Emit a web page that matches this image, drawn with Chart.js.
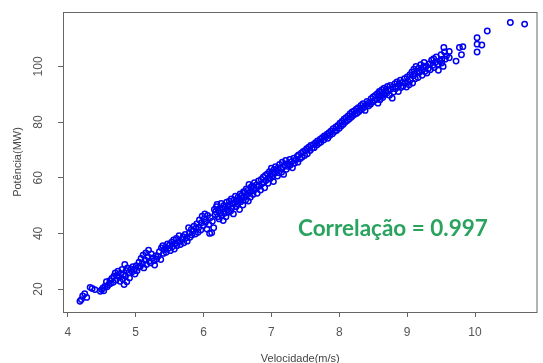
<!DOCTYPE html>
<html lang="pt">
<head>
<meta charset="UTF-8">
<title>Potência x Velocidade</title>
<script src="https://cdn.jsdelivr.net/npm/chart.js"></script>
<style>
  html, body { margin: 0; padding: 0; background: #fff; }
  canvas { display: block; }
</style>
</head>
<body>
<canvas id="scatter" width="543" height="363"></canvas>
<script>
// [velocidade (m/s), potência (MW)]
const readings = [
  [4.18,15.6],[4.20,16.2],[4.22,17.5],[4.25,18.3],[4.28,17.0],[4.33,20.6],[4.36,20.2],[4.40,19.8],
  [4.48,19.2],[4.50,19.8],[4.52,20.4],[4.53,19.4],[4.55,21.0],[4.57,22.6],[4.58,20.8],[4.60,21.5],
  [4.62,23.0],[4.63,22.0],[4.65,23.8],[4.67,22.4],[4.68,24.6],[4.70,25.8],[4.71,23.2],[4.73,25.0],
  [4.74,26.4],[4.76,24.2],[4.77,22.8],[4.78,25.6],[4.80,27.0],[4.81,23.6],[4.82,25.2],[4.83,21.6],
  [4.84,28.8],[4.85,24.6],[4.86,26.6],[4.87,22.6],[4.88,27.6],[4.90,25.8],[4.91,24.0],[4.93,27.2],
  [4.95,26.2],[4.96,28.0],[4.98,27.0],[4.99,25.4],
  [5.01,28.4],[5.02,26.6],[5.04,27.8],[5.05,29.6],[5.07,28.2],[5.08,31.0],[5.10,29.2],[5.11,32.2],
  [5.12,27.6],[5.14,30.4],[5.15,33.0],[5.16,28.8],[5.18,31.6],[5.19,34.0],[5.20,30.0],[5.22,29.4],
  [5.23,32.6],[5.25,31.2],[5.27,30.2],[5.28,28.6],[5.30,32.0],[5.31,30.8],[5.33,31.8],[5.35,33.4],
  [5.37,30.6],[5.38,34.8],[5.40,35.6],[5.41,32.8],
  [5.42,34.2],[5.44,35.0],[5.45,33.2],[5.47,36.2],[5.48,34.6],[5.50,35.8],[5.51,33.8],[5.53,36.8],
  [5.54,35.2],[5.56,37.6],[5.57,34.4],[5.58,36.4],[5.60,38.2],[5.61,35.6],[5.63,37.0],[5.64,39.2],
  [5.66,36.0],[5.68,37.8],[5.70,38.8],[5.71,36.6],[5.73,39.6],[5.75,38.4],[5.76,37.2],[5.78,42.0],
  [5.79,40.2],[5.80,38.6],[5.82,41.4],[5.83,39.4],
  [5.85,40.8],[5.86,42.6],[5.88,39.8],[5.89,41.8],[5.90,43.4],[5.92,40.4],[5.93,42.2],[5.94,44.8],
  [5.96,41.2],[5.97,43.8],[5.98,46.2],[6.00,42.8],[6.01,45.2],[6.02,47.0],[6.03,44.0],[6.05,41.6],
  [6.06,46.4],[6.08,43.2],[6.09,40.0],[6.10,45.6],[6.12,40.2],[6.13,44.4],[6.15,42.0],[6.16,48.6],
  [6.17,46.8],[6.18,47.8],[6.19,49.6],[6.20,50.4],[6.21,46.0],[6.22,48.2],
  [6.23,45.2],[6.24,49.0],[6.25,47.4],[6.26,50.8],[6.27,46.4],[6.28,48.8],[6.29,44.6],[6.30,50.0],
  [6.31,47.2],[6.32,49.4],[6.33,46.0],[6.34,51.2],[6.35,48.4],[6.36,49.8],[6.37,47.6],[6.38,51.6],
  [6.39,50.4],[6.40,48.0],[6.41,52.4],[6.42,49.2],[6.43,50.8],[6.44,47.0],[6.45,52.0],[6.46,51.0],
  [6.47,53.4],[6.48,49.6],[6.49,51.8],[6.50,50.6],[6.51,53.0],[6.52,52.2],[6.53,48.6],[6.54,54.2],
  [6.55,51.4],[6.56,53.6],[6.57,52.6],[6.58,50.2],[6.59,55.0],
  [6.60,53.2],[6.61,54.6],[6.62,52.0],[6.63,56.0],[6.64,53.8],[6.65,55.4],[6.66,51.6],[6.67,57.6],
  [6.68,54.8],[6.69,53.0],[6.70,56.6],[6.71,55.2],[6.72,57.0],[6.73,54.0],[6.74,56.2],[6.75,58.2],
  [6.76,55.8],[6.78,57.4],[6.79,54.4],[6.80,56.8],[6.81,58.8],[6.82,57.0],[6.84,55.6],[6.85,59.4],
  [6.86,57.8],[6.88,60.2],[6.89,58.4],[6.90,56.4],[6.91,60.8],[6.92,59.0],[6.94,61.4],[6.95,58.0],
  [6.96,60.0],[6.97,62.2],[6.98,59.6],[6.99,61.0],
  [7.00,63.4],[7.01,60.4],[7.02,62.0],[7.03,58.6],[7.04,63.0],[7.05,61.6],[7.06,64.0],[7.08,62.6],
  [7.09,60.6],[7.10,63.6],[7.11,61.8],[7.12,64.8],[7.14,63.2],[7.15,62.0],[7.16,65.6],[7.17,63.8],
  [7.18,61.2],[7.20,64.4],[7.21,66.2],[7.22,63.0],[7.24,65.0],[7.25,64.0],[7.27,66.6],[7.28,64.6],
  [7.30,65.8],[7.31,63.6],[7.33,67.0],[7.34,65.2],[7.36,66.4],[7.38,67.6],[7.39,65.6],
  [7.40,68.2],[7.42,66.8],[7.44,68.8],[7.45,67.4],[7.47,69.4],[7.49,68.0],[7.50,69.8],[7.52,70.4],
  [7.53,68.6],[7.55,71.0],[7.57,69.8],[7.58,71.6],[7.60,70.6],[7.62,72.0],[7.63,70.8],[7.65,72.6],
  [7.67,71.8],[7.68,73.2],[7.70,72.4],[7.72,73.8],[7.73,72.8],[7.75,74.4],[7.77,73.6],[7.78,75.0],
  [7.80,74.6],[7.82,75.6],[7.83,74.2],[7.85,76.2],[7.86,75.2],[7.88,76.8],[7.90,75.8],[7.91,77.6],
  [7.93,76.6],[7.95,78.2],[7.96,77.0],[7.98,78.8],[8.00,77.8],[8.01,79.6],[8.03,78.6],[8.04,80.2],
  [8.06,79.2],[8.07,81.0],[8.09,80.0],[8.10,81.6],[8.12,80.6],[8.13,82.2],[8.15,81.2],[8.16,83.0],
  [8.18,81.8],[8.19,83.6],
  [8.20,82.4],[8.22,84.0],[8.23,82.8],[8.25,84.6],[8.26,83.2],[8.28,85.2],[8.29,83.8],[8.31,84.4],
  [8.32,86.0],[8.34,84.8],[8.35,86.6],[8.37,85.4],[8.38,84.2],[8.40,86.2],[8.41,87.4],[8.43,85.8],
  [8.44,87.0],[8.46,86.4],[8.47,88.4],[8.49,87.2],[8.50,89.0],[8.52,87.8],[8.53,89.6],[8.55,88.2],
  [8.56,90.2],[8.57,86.8],[8.58,89.2],[8.59,91.0],
  [8.60,88.0],[8.61,90.6],[8.62,89.4],[8.63,91.6],[8.64,88.8],[8.65,90.0],[8.66,92.2],[8.67,89.8],
  [8.68,91.2],[8.70,90.4],[8.71,92.8],[8.72,91.4],[8.74,89.6],[8.75,93.2],[8.76,91.8],[8.78,88.6],
  [8.79,92.6],[8.80,90.8],[8.82,93.8],[8.83,92.0],[8.85,94.4],[8.86,92.8],[8.87,91.0],[8.88,93.6],
  [8.90,95.0],[8.91,92.4],[8.93,94.2],[8.94,93.0],[8.96,95.6],[8.97,94.0],[8.99,92.6],
  [9.00,96.2],[9.01,94.6],[9.03,93.4],[9.04,97.0],[9.05,95.2],[9.07,98.0],[9.08,94.0],[9.09,96.6],
  [9.10,99.0],[9.11,97.4],[9.12,95.6],[9.13,100.0],[9.15,98.2],[9.16,96.0],[9.17,99.4],[9.18,97.8],
  [9.20,100.6],[9.21,98.6],[9.22,96.8],[9.24,99.8],[9.25,101.4],[9.26,98.2],[9.28,100.2],[9.29,97.6],
  [9.31,99.2],[9.33,101.0],[9.34,98.8],[9.36,102.2],[9.38,100.4],[9.39,102.8],[9.40,99.6],[9.42,101.6],
  [9.43,103.4],[9.45,100.8],[9.46,98.6],[9.48,102.0],[9.50,104.2],[9.51,101.2],[9.53,100.0],[9.55,105.2],
  [9.56,102.6],[9.58,103.8],
  [9.51,102.5],[9.54,106.8],[9.62,105.4],[9.62,103.1],[9.72,101.9],[9.77,106.8],[9.80,104.2],[9.82,107.1],
  [10.03,110.3],[10.03,108.0],[10.10,107.7],[10.03,105.2],[10.18,112.7],[10.52,115.8],[10.73,115.2]
];

const speedTicks = [4, 5, 6, 7, 8, 9, 10];
const powerTicks = [20, 40, 60, 80, 100];
const speedRange = [3.93, 10.92];
const powerRange = [11.75, 119.55];

const xTitle = 'Velocidade(m/s)';
const yTitle = 'Potência(MW)';
const note = 'Correlação = 0.997';

const axisGrey = '#666';
const labelGrey = '#555';

// box around plot area, rotated y labels and the correlation note
const frame = {
  id: 'frame',
  afterDraw(chart) {
    const { ctx, chartArea: a, scales } = chart;
    ctx.save();
    ctx.strokeStyle = axisGrey;
    ctx.lineWidth = 1;
    ctx.strokeRect(a.left + 0.5, a.top + 0.5, a.right - a.left - 1, a.bottom - a.top);

    ctx.fillStyle = labelGrey;
    ctx.font = '12px "Liberation Sans", Arial, sans-serif';
    ctx.textAlign = 'center';
    ctx.textBaseline = 'middle';
    for (const t of scales.y.ticks) {
      const py = scales.y.getPixelForValue(t.value);
      ctx.save();
      ctx.translate(39, py);
      ctx.rotate(-Math.PI / 2);
      ctx.fillText(String(t.value), 0, 0);
      ctx.restore();
    }

    ctx.fillStyle = '#2aa35f';
    ctx.font = 'bold 22.5px Lato, "Open Sans", sans-serif';
    ctx.textAlign = 'left';
    ctx.fillText(note, 298, 229);
    ctx.restore();
  }
};

new Chart(document.getElementById('scatter'), {
  type: 'scatter',
  data: {
    datasets: [{
      data: readings.map(([v, p]) => ({ x: v, y: p })),
      pointStyle: 'circle',
      pointRadius: 2.7,
      pointBorderWidth: 1.5,
      pointBorderColor: '#0000f2',
      pointBackgroundColor: 'rgba(0,0,0,0)'
    }]
  },
  options: {
    responsive: false,
    animation: false,
    devicePixelRatio: 1,
    layout: { padding: { left: 0, right: 2, top: 12, bottom: 0 } },
    plugins: { legend: { display: false }, tooltip: { enabled: false } },
    scales: {
      x: {
        type: 'linear',
        min: speedRange[0],
        max: speedRange[1],
        afterBuildTicks: s => { s.ticks = speedTicks.map(v => ({ value: v })); },
        afterFit: s => { s.height = 51; },
        border: { display: false },
        grid: { drawOnChartArea: false, drawTicks: true, tickLength: 5, color: axisGrey },
        ticks: {
          padding: 8,
          color: labelGrey,
          font: { family: '"Liberation Sans", Arial, sans-serif', size: 12 },
          maxRotation: 0
        },
        title: {
          display: true,
          text: xTitle,
          color: '#444',
          padding: { top: 0, bottom: -3 },
          font: { family: '"Liberation Sans", Arial, sans-serif', size: 11 }
        }
      },
      y: {
        type: 'linear',
        min: powerRange[0],
        max: powerRange[1],
        afterBuildTicks: s => { s.ticks = powerTicks.map(v => ({ value: v })); },
        afterFit: s => { s.width = 63; },
        border: { display: false },
        grid: { drawOnChartArea: false, drawTicks: true, tickLength: 5, color: axisGrey },
        ticks: { display: false },
        title: {
          display: true,
          text: yTitle,
          color: '#444',
          padding: { top: 11, bottom: 0 },
          font: { family: '"Liberation Sans", Arial, sans-serif', size: 11 }
        }
      }
    }
  },
  plugins: [frame]
});
</script>
</body>
</html>
